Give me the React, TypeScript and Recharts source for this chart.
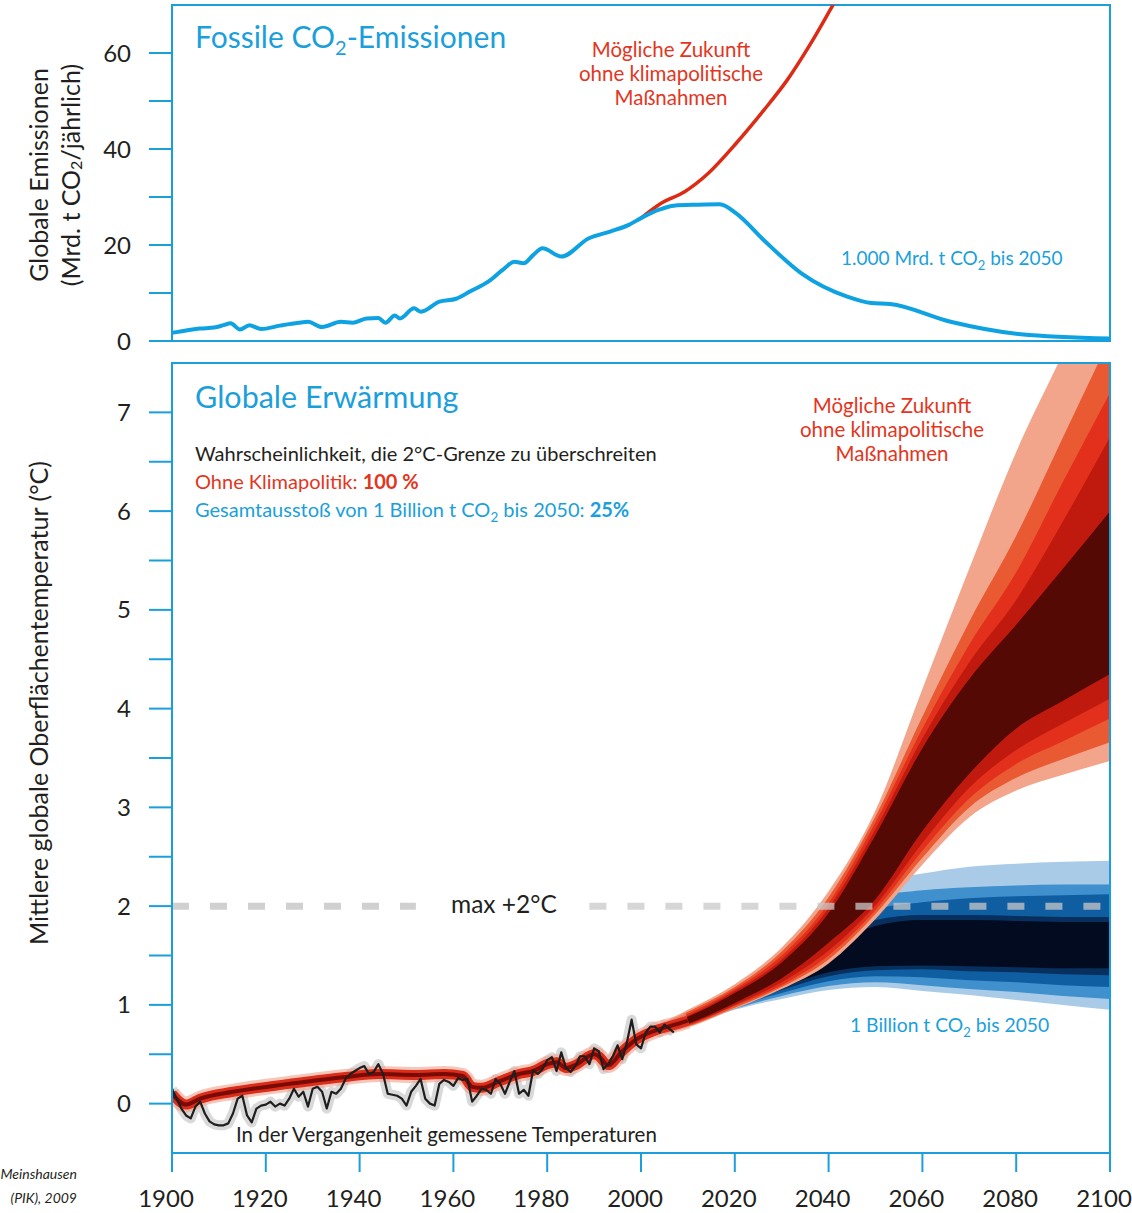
import { Area, ComposedChart, Line, ReferenceArea, XAxis, YAxis } from "recharts";

const FONT = "Lato, 'Open Sans', sans-serif";
const BLUE = "#1b9fdb";
const RED = "#e3361e";
const INK = "#231f20";

// Fossile CO2-Emissionen (Mrd. t CO2 / Jahr)
const EMISSION_YEARS = [
  1900, 1903, 1906, 1909, 1911, 1912.5, 1914.5, 1916.5, 1919, 1923, 1927, 1929,
  1932, 1936, 1938.5, 1941.5, 1944, 1945.5, 1947.5, 1948.6, 1951.6, 1953.1,
  1957, 1960.6, 1963.5, 1967.5, 1970.5, 1973, 1975, 1977, 1979, 1983, 1988.9,
  1993.4, 1997.4, 2000, 2004, 2007, 2012, 2016.8, 2020.3, 2026.2, 2034.2,
  2044.1, 2049.1, 2053.1, 2066, 2081, 2100,
];
const EMISSION_VALUES = [
  1.7, 2.2, 2.6, 2.8, 3.3, 3.7, 2.4, 3.3, 2.5, 3.2, 3.8, 4.0, 2.9, 4.0, 3.8,
  4.7, 4.8, 3.8, 5.3, 4.7, 6.8, 6.1, 8.2, 8.8, 10.3, 12.4, 14.8, 16.5, 16.2,
  17.9, 19.3, 17.6, 21.4, 22.8, 24.2, 25.6, 27.4, 28.2, 28.4, 28.5, 26.6, 21.0,
  14.1, 9.2, 7.9, 7.7, 4.0, 1.4, 0.5,
];
const NOPOLICY_YEARS = [2000, 2004.3, 2009.3, 2014.3, 2020.3, 2026.2, 2031.2, 2036.2, 2040.7, 2045];
const NOPOLICY_VALUES = [25.6, 28.7, 31.1, 34.9, 41.2, 48.1, 54.4, 62.0, 69.6, 77.0];

// gemessene Temperaturen 1900-2007 (°C)
const OBS_FIRST_YEAR = 1900;
const OBS_VALUES = [
  0.15, 0.05, -0.05, -0.12, -0.15, -0.03, 0.02, -0.1, -0.18, -0.21, -0.22,
  -0.22, -0.2, -0.1, 0.05, 0.08, -0.12, -0.19, -0.05, -0.02, -0.01, 0.02,
  -0.03, 0.0, -0.02, 0.05, 0.15, 0.07, 0.12, -0.03, 0.15, 0.17, 0.12, -0.05,
  0.12, 0.1, 0.15, 0.25, 0.3, 0.33, 0.36, 0.38, 0.3, 0.32, 0.4, 0.3, 0.1,
  0.09, 0.08, 0.05, -0.02, 0.12, 0.18, 0.25, 0.05, 0.0, -0.02, 0.2, 0.24, 0.22,
  0.18, 0.26, 0.24, 0.25, 0.02, 0.08, 0.15, 0.14, 0.1, 0.25, 0.2, 0.1, 0.22,
  0.33, 0.1, 0.14, 0.08, 0.34, 0.3, 0.35, 0.44, 0.47, 0.33, 0.52, 0.36, 0.32,
  0.38, 0.48, 0.48, 0.4, 0.56, 0.53, 0.35, 0.4, 0.48, 0.59, 0.45, 0.62, 0.85,
  0.6, 0.56, 0.72, 0.78, 0.78, 0.72, 0.8, 0.76, 0.72,
];

// Modellmittel Vergangenheit
const MODEL_YEARS = [
  1900, 1903, 1906, 1913, 1925, 1937, 1944, 1952, 1958, 1962, 1964, 1966, 1970,
  1974, 1977, 1980, 1982, 1984, 1986, 1990, 1991, 1993, 1996, 1999, 2003, 2008, 2010,
];
const MODEL_VALUES = [
  0.1, -0.01, 0.05, 0.12, 0.2, 0.27, 0.3, 0.29, 0.3, 0.28, 0.17, 0.16, 0.23,
  0.3, 0.33, 0.4, 0.42, 0.36, 0.39, 0.5, 0.48, 0.39, 0.53, 0.65, 0.74, 0.81, 0.84,
];

// Projektionen 2005-2100
const FAN_YEARS = [2005, 2010, 2020, 2030, 2040, 2050, 2060, 2070, 2080, 2090, 2100];

const RED_LO1 = [0.7, 0.77, 0.96, 1.16, 1.42, 1.87, 2.42, 2.9, 3.17, 3.33, 3.47];
const RED_LO2 = [0.71, 0.78, 0.97, 1.18, 1.46, 1.92, 2.49, 3.0, 3.3, 3.49, 3.66];
const RED_LO3 = [0.72, 0.79, 0.99, 1.2, 1.5, 1.96, 2.56, 3.09, 3.44, 3.67, 3.9];
const RED_LO4 = [0.73, 0.8, 1.0, 1.23, 1.55, 2.01, 2.64, 3.2, 3.58, 3.85, 4.1];
const RED_LO5 = [0.74, 0.81, 1.02, 1.27, 1.63, 2.07, 2.76, 3.34, 3.8, 4.08, 4.35];
const RED_HI5 = [0.79, 0.88, 1.12, 1.43, 1.93, 2.72, 3.6, 4.3, 4.85, 5.42, 6.0];
const RED_HI4 = [0.8, 0.89, 1.14, 1.46, 1.98, 2.78, 3.7, 4.47, 5.1, 5.9, 6.75];
const RED_HI3 = [0.81, 0.91, 1.16, 1.5, 2.03, 2.85, 3.8, 4.65, 5.38, 6.3, 7.2];
const RED_HI2 = [0.82, 0.93, 1.18, 1.54, 2.09, 2.91, 3.92, 4.88, 5.75, 6.75, 7.75];
const RED_HI1 = [0.83, 0.95, 1.21, 1.58, 2.15, 2.97, 4.2, 5.42, 6.6, 7.6, 8.6];

const BLUE_LO1 = [0.7, 0.78, 0.95, 1.06, 1.15, 1.18, 1.14, 1.1, 1.05, 1.0, 0.95];
const BLUE_LO2 = [0.71, 0.79, 0.96, 1.09, 1.19, 1.23, 1.2, 1.16, 1.13, 1.09, 1.06];
const BLUE_LO3 = [0.72, 0.8, 0.98, 1.12, 1.24, 1.29, 1.28, 1.25, 1.23, 1.2, 1.18];
const BLUE_LO4 = [0.73, 0.81, 0.99, 1.15, 1.29, 1.35, 1.36, 1.34, 1.33, 1.31, 1.3];
const BLUE_LO5 = [0.74, 0.82, 1.0, 1.18, 1.33, 1.39, 1.4, 1.39, 1.38, 1.37, 1.37];
const BLUE_HI5 = [0.78, 0.86, 1.06, 1.34, 1.62, 1.8, 1.86, 1.86, 1.85, 1.84, 1.84];
const BLUE_HI4 = [0.79, 0.87, 1.08, 1.38, 1.68, 1.86, 1.91, 1.91, 1.9, 1.89, 1.89];
const BLUE_HI3 = [0.8, 0.88, 1.1, 1.43, 1.78, 1.97, 2.04, 2.08, 2.1, 2.11, 2.12];
const BLUE_HI2 = [0.81, 0.89, 1.12, 1.49, 1.88, 2.09, 2.16, 2.19, 2.21, 2.22, 2.22];
const BLUE_HI1 = [0.82, 0.9, 1.15, 1.56, 2.02, 2.24, 2.33, 2.4, 2.43, 2.45, 2.46];

// 2°C-Grenze (unterbrochen für die Beschriftung)
const LIMIT_LEFT_YEARS = [1900, 1952];
const LIMIT_RIGHT_YEARS = [1989, 2100];
const LIMIT_VALUE = 2;

const EMISSION_TICKS = [0, 10, 20, 30, 40, 50, 60];
const TEMP_TICKS = [0, 0.5, 1, 1.5, 2, 2.5, 3, 3.5, 4, 4.5, 5, 5.5, 6, 6.5, 7];
const YEAR_TICKS = [1900, 1920, 1940, 1960, 1980, 2000, 2020, 2040, 2060, 2080, 2100];
const TOP_YEAR_TICKS = [1950, 2000, 2050];

const emissionData = EMISSION_YEARS.map((year, i) => ({ year, v: EMISSION_VALUES[i] }));
const noPolicyData = NOPOLICY_YEARS.map((year, i) => ({ year, v: NOPOLICY_VALUES[i] }));
const obsData = OBS_VALUES.map((v, i) => ({ year: OBS_FIRST_YEAR + i, v }));
const modelData = MODEL_YEARS.map((year, i) => ({ year, v: MODEL_VALUES[i] }));
const limitLeft = LIMIT_LEFT_YEARS.map((year) => ({ year, v: LIMIT_VALUE }));
const limitRight = LIMIT_RIGHT_YEARS.map((year) => ({ year, v: LIMIT_VALUE }));

const redFan = FAN_YEARS.map((year, i) => ({
  year,
  b1: [RED_LO1[i], RED_HI1[i]],
  b2: [RED_LO2[i], RED_HI2[i]],
  b3: [RED_LO3[i], RED_HI3[i]],
  b4: [RED_LO4[i], RED_HI4[i]],
  b5: [RED_LO5[i], RED_HI5[i]],
}));
const blueFan = FAN_YEARS.map((year, i) => ({
  year,
  b1: [BLUE_LO1[i], BLUE_HI1[i]],
  b2: [BLUE_LO2[i], BLUE_HI2[i]],
  b3: [BLUE_LO3[i], BLUE_HI3[i]],
  b4: [BLUE_LO4[i], BLUE_HI4[i]],
  b5: [BLUE_LO5[i], BLUE_HI5[i]],
}));

const RED_SHADES = ["#f3a58c", "#ea5a32", "#e2301c", "#c01a0e", "#540904"];
const BLUE_SHADES = ["#aacbe7", "#3f90cd", "#0f5ea2", "#07305f", "#020b20"];
const BANDS = ["b1", "b2", "b3", "b4", "b5"];

const tickStyle = { fill: INK, fontSize: 24, fontFamily: FONT };

function Annotations() {
  return (
    <svg
      width={1132}
      height={1213}
      style={{ position: "absolute", left: 0, top: 0, pointerEvents: "none" }}
      fontFamily={FONT}
    >
      {/* Achsentitel */}
      <g transform="translate(38,175) rotate(-90)">
        <text textAnchor="middle" dominantBaseline="central" fontSize={25} fill={INK}>
          Globale Emissionen
        </text>
      </g>
      <g transform="translate(70,175) rotate(-90)">
        <text textAnchor="middle" dominantBaseline="central" fontSize={25} fill={INK}>
          (Mrd. t CO<tspan fontSize={16} dy={5}>2</tspan>
          <tspan dy={-5}>/jährlich)</tspan>
        </text>
      </g>
      <g transform="translate(38,703) rotate(-90)">
        <text textAnchor="middle" dominantBaseline="central" fontSize={25} fill={INK}>
          Mittlere globale Oberflächentemperatur (°C)
        </text>
      </g>

      {/* oberes Feld */}
      <text x={195} y={48} fontSize={30} fill={BLUE}>
        Fossile CO<tspan fontSize={20} dy={7}>2</tspan>
        <tspan dy={-7}>-Emissionen</tspan>
      </text>
      <g fontSize={20.5} fill={RED} textAnchor="middle">
        <text x={671} y={57}>Mögliche Zukunft</text>
        <text x={671} y={81}>ohne klimapolitische</text>
        <text x={671} y={105}>Maßnahmen</text>
      </g>
      <text x={841} y={265} fontSize={19} fill={BLUE}>
        1.000 Mrd. t CO<tspan fontSize={13} dy={5}>2</tspan>
        <tspan dy={-5}>{" bis 2050"}</tspan>
      </text>

      {/* unteres Feld */}
      <text x={195} y={408} fontSize={30.5} fill={BLUE}>
        Globale Erwärmung
      </text>
      <text x={195} y={461} fontSize={20} fill={INK}>
        Wahrscheinlichkeit, die 2°C-Grenze zu überschreiten
      </text>
      <text x={195} y={489} fontSize={20} fill={RED}>
        Ohne Klimapolitik: <tspan fontWeight="bold">100 %</tspan>
      </text>
      <text x={195} y={517} fontSize={20} fill={BLUE}>
        Gesamtausstoß von 1 Billion t CO<tspan fontSize={13.5} dy={5}>2</tspan>
        <tspan dy={-5}>{" bis 2050: "}</tspan>
        <tspan fontWeight="bold">25%</tspan>
      </text>
      <g fontSize={20.5} fill={RED} textAnchor="middle">
        <text x={892} y={413}>Mögliche Zukunft</text>
        <text x={892} y={437}>ohne klimapolitische</text>
        <text x={892} y={461}>Maßnahmen</text>
      </g>
      <text x={451} y={913} fontSize={24.5} fill={INK}>
        max +2°C
      </text>
      <text x={850} y={1032} fontSize={19.3} fill={BLUE}>
        1 Billion t CO<tspan fontSize={13} dy={5}>2</tspan>
        <tspan dy={-5}>{" bis 2050"}</tspan>
      </text>
      <text x={236} y={1142} fontSize={20.5} fill={INK}>
        In der Vergangenheit gemessene Temperaturen
      </text>

      {/* Quelle */}
      <g fontSize={14} fill={INK} fontStyle="italic" textAnchor="end">
        <text x={77} y={1179}>Meinshausen</text>
        <text x={77} y={1203}>(PIK), 2009</text>
      </g>
    </svg>
  );
}

export default function App() {
  return (
    <div
      style={{
        position: "absolute",
        left: 0,
        top: 0,
        width: 1132,
        height: 1213,
        background: "#fff",
        fontFamily: FONT,
      }}
    >
      <div style={{ position: "absolute", left: 0, top: 0 }}>
        <ComposedChart width={1132} height={360} margin={{ top: 5, right: 22, bottom: 19, left: 0 }}>
          <XAxis
            type="number"
            dataKey="year"
            domain={[1900, 2100]}
            ticks={TOP_YEAR_TICKS}
            interval={0}
            mirror
            height={0}
            tickSize={15}
            tickFormatter={() => ""}
            axisLine={{ stroke: BLUE, strokeWidth: 2 }}
            tickLine={{ stroke: BLUE, strokeWidth: 2 }}
          />
          <YAxis
            type="number"
            domain={[0, 70]}
            allowDataOverflow
            ticks={EMISSION_TICKS}
            interval={0}
            width={172}
            tickSize={23}
            tickMargin={18}
            tickFormatter={(v: number) => (v % 20 === 0 ? String(v) : "")}
            tick={tickStyle}
            axisLine={{ stroke: BLUE, strokeWidth: 2 }}
            tickLine={{ stroke: BLUE, strokeWidth: 2 }}
          />
          <Line
            data={noPolicyData}
            dataKey="v"
            type="monotone"
            stroke="#dc2a14"
            strokeWidth={3.5}
            dot={false}
            activeDot={false}
            isAnimationActive={false}
          />
          <Line
            data={emissionData}
            dataKey="v"
            type="monotone"
            stroke="#0ea2e2"
            strokeWidth={4}
            dot={false}
            activeDot={false}
            isAnimationActive={false}
          />
          <ReferenceArea
            x1={1900}
            x2={2100}
            y1={0}
            y2={70}
            fill="none"
            stroke={BLUE}
            strokeWidth={2}
            ifOverflow="visible"
          />
        </ComposedChart>
      </div>

      <div style={{ position: "absolute", left: 0, top: 345 }}>
        <ComposedChart width={1132} height={868} margin={{ top: 18, right: 22, bottom: 0, left: 0 }}>
          <XAxis
            type="number"
            dataKey="year"
            domain={[1900, 2100]}
            allowDataOverflow
            ticks={YEAR_TICKS}
            interval={0}
            height={60}
            tickSize={19}
            tickMargin={18}
            tick={{ ...tickStyle, dx: -6 }}
            axisLine={{ stroke: BLUE, strokeWidth: 2 }}
            tickLine={{ stroke: BLUE, strokeWidth: 2 }}
          />
          <YAxis
            type="number"
            domain={[-0.5, 7.5]}
            allowDataOverflow
            ticks={TEMP_TICKS}
            interval={0}
            width={172}
            tickSize={23}
            tickMargin={18}
            tickFormatter={(v: number) => (Number.isInteger(v) ? String(v) : "")}
            tick={tickStyle}
            axisLine={{ stroke: BLUE, strokeWidth: 2 }}
            tickLine={{ stroke: BLUE, strokeWidth: 2 }}
          />
          {BANDS.map((key, i) => (
            <Area
              key={"blue-" + key}
              data={blueFan}
              dataKey={key}
              type="monotone"
              stroke="none"
              fill={BLUE_SHADES[i]}
              fillOpacity={1}
              dot={false}
              activeDot={false}
              isAnimationActive={false}
            />
          ))}
          {BANDS.map((key, i) => (
            <Area
              key={"red-" + key}
              data={redFan}
              dataKey={key}
              type="monotone"
              stroke="none"
              fill={RED_SHADES[i]}
              fillOpacity={1}
              dot={false}
              activeDot={false}
              isAnimationActive={false}
            />
          ))}
          <Line
            data={obsData}
            dataKey="v"
            type="linear"
            stroke="#b9b9b9"
            strokeOpacity={0.55}
            strokeWidth={10}
            strokeLinejoin="round"
            dot={false}
            activeDot={false}
            isAnimationActive={false}
          />
          <Line
            data={modelData}
            dataKey="v"
            type="monotone"
            stroke="#f0a08a"
            strokeOpacity={0.6}
            strokeWidth={16}
            dot={false}
            activeDot={false}
            isAnimationActive={false}
          />
          <Line
            data={modelData}
            dataKey="v"
            type="monotone"
            stroke="#dc2c1a"
            strokeWidth={10}
            dot={false}
            activeDot={false}
            isAnimationActive={false}
          />
          <Line
            data={modelData}
            dataKey="v"
            type="monotone"
            stroke="#7a0a05"
            strokeWidth={4}
            dot={false}
            activeDot={false}
            isAnimationActive={false}
          />
          <Line
            data={obsData}
            dataKey="v"
            type="linear"
            stroke="#1e1e1e"
            strokeWidth={2.2}
            strokeLinejoin="round"
            dot={false}
            activeDot={false}
            isAnimationActive={false}
          />
          <Line
            data={limitLeft}
            dataKey="v"
            type="linear"
            stroke="#c8c8c8"
            strokeOpacity={0.85}
            strokeWidth={7}
            strokeDasharray="17 21"
            dot={false}
            activeDot={false}
            isAnimationActive={false}
          />
          <Line
            data={limitRight}
            dataKey="v"
            type="linear"
            stroke="#c8c8c8"
            strokeOpacity={0.75}
            strokeWidth={7}
            strokeDasharray="17 21"
            dot={false}
            activeDot={false}
            isAnimationActive={false}
          />
          <ReferenceArea
            x1={1900}
            x2={2100}
            y1={-0.5}
            y2={7.5}
            fill="none"
            stroke={BLUE}
            strokeWidth={2}
            ifOverflow="visible"
          />
        </ComposedChart>
      </div>

      <Annotations />
    </div>
  );
}
